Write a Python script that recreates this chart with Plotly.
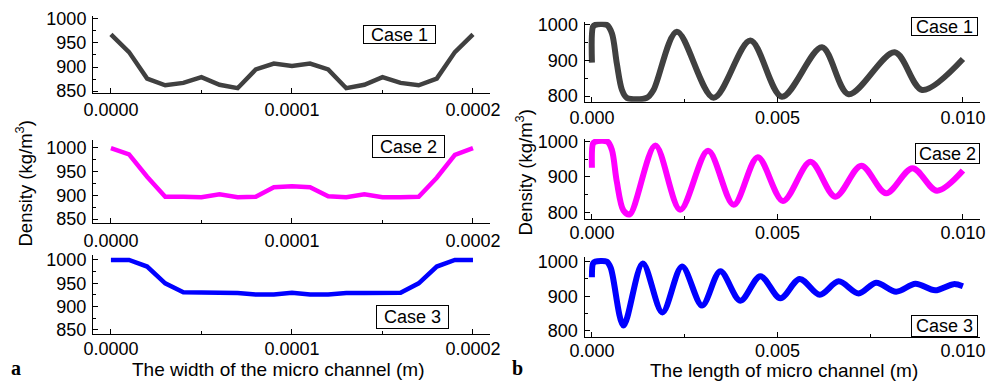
import plotly.graph_objects as go

W, H = 999, 385

# ---------------- data ----------------
# (a) width of the micro channel
width_x = [0.0, 0.00001, 0.00002, 0.00003, 0.00004, 0.00005, 0.00006, 0.00007,
           0.00008, 0.00009, 0.0001, 0.00011, 0.00012, 0.00013, 0.00014, 0.00015,
           0.00016, 0.00017, 0.00018, 0.00019, 0.0002]
case1_width = [968, 931, 876, 862, 867, 879, 863, 856, 895, 907, 902, 907, 895,
               856, 863, 879, 867, 862, 876, 931, 968]
case2_width = [999, 986, 939, 897, 897, 896, 902, 896, 897, 917, 919, 917, 898,
               896, 902, 896, 896, 897, 937, 985, 999]
case3_width = [1000, 1000, 986, 950, 931, 931, 929, 929, 926, 926, 930, 926, 926,
               929, 929, 930, 930, 950, 986, 1000, 1000]

# (b) length of micro channel
length_x1 = [0.0, 0.00003, 0.00009, 0.0004, 0.00054, 0.00067, 0.00081, 0.00094,
             0.00148, 0.00166, 0.00229, 0.00328, 0.00427, 0.00512, 0.0062,
             0.00692, 0.00816, 0.0089, 0.01]
case1_length = [894, 995, 1000, 1000, 976, 892, 817, 795, 795, 817, 981, 795, 956,
                798, 937, 805, 923, 817, 904]

length_x2 = [0.0, 0.00003, 0.00009, 0.00042, 0.00054, 0.00067, 0.00085, 0.00102,
             0.00171, 0.00238, 0.00313, 0.00382, 0.00447, 0.00515, 0.00589,
             0.00656, 0.00726, 0.00793, 0.00864, 0.0093, 0.01]
case2_length = [926, 995, 1000, 1000, 976, 887, 805, 794, 989, 807, 974, 821, 956,
                832, 943, 844, 932, 854, 925, 861, 918]

length_x3 = [0.0, 0.00003, 0.00009, 0.0004, 0.00051, 0.00085, 0.00137, 0.0019,
             0.00243, 0.00297, 0.00346, 0.004, 0.00454, 0.00508, 0.0056, 0.00614,
             0.00665, 0.00719, 0.00766, 0.0082, 0.00872, 0.00925, 0.00975, 0.01]
case3_length = [955, 995, 1000, 1000, 981, 815, 995, 853, 986, 873, 972, 887, 958,
                894, 950, 904, 943, 908, 939, 913, 936, 917, 935, 929]

case_labels = ["Case 1", "Case 2", "Case 3"]
width_ticks = [0.0, 0.0001, 0.0002]
length_ticks = [0.0, 0.005, 0.01]
width_yticks = [850, 900, 950, 1000]
length_yticks = [800, 900, 1000]

GRAY = "#404040"
MAGENTA = "#ff00ff"
BLUE = "#0000ff"
FONT = "Liberation Sans, Arial, sans-serif"
TICK_SIZE = 18
TITLE_SIZE = 19

# ---------------- layout helpers ----------------
def fx(p):
    return p / W


def fy(p):
    return 1 - p / H


panels = [
    # left column
    dict(x=width_x, y=case1_width, color=GRAY, lw=4.5, shape="linear",
         xdom=(93, 490), ydom=(16, 93), xr=(-0.0000099, 0.0002094), yr=(846, 1006),
         xt=width_ticks, xfmt=".4f", xminor=0.00005, yt=width_yticks, yminor=25,
         xso=0, box=(399.5, 34.5, 73, 19), label=case_labels[0]),
    dict(x=width_x, y=case2_width, color=MAGENTA, lw=4.5, shape="linear",
         xdom=(93, 490), ydom=(140, 223), xr=(-0.0000099, 0.0002094), yr=(842, 1016),
         xt=width_ticks, xfmt=".4f", xminor=0.00005, yt=width_yticks, yminor=25,
         xso=1, box=(408.5, 146.5, 73, 23), label=case_labels[1]),
    dict(x=width_x, y=case3_width, color=BLUE, lw=4.5, shape="linear",
         xdom=(93, 490), ydom=(255, 334), xr=(-0.0000099, 0.0002094), yr=(841.4, 1010.7),
         xt=width_ticks, xfmt=".4f", xminor=0.00005, yt=width_yticks, yminor=25,
         xso=-2, box=(412.7, 317, 73, 24), label=case_labels[2]),
    # right column
    dict(x=length_x1, y=case1_length, color=GRAY, lw=6, shape="spline",
         xdom=(584.5, 980), ydom=(21.7, 101.7), xr=(-0.0002, 0.01046), yr=(784, 1009),
         xt=length_ticks, xfmt=".3f", xminor=0.0025, yt=length_yticks, yminor=50,
         xso=0, box=(944, 26.3, 67, 19), label=case_labels[0]),
    dict(x=length_x2, y=case2_length, color=MAGENTA, lw=6, shape="spline",
         xdom=(584.5, 980), ydom=(139, 219.3), xr=(-0.0002, 0.01046), yr=(780, 1007.6),
         xt=length_ticks, xfmt=".3f", xminor=0.0025, yt=length_yticks, yminor=50,
         xso=-3, box=(947.5, 153.8, 65, 21), label=case_labels[1]),
    dict(x=length_x3, y=case3_length, color=BLUE, lw=6, shape="spline",
         xdom=(584.5, 980), ydom=(257.3, 337.3), xr=(-0.0002, 0.01046), yr=(781, 1012.7),
         xt=length_ticks, xfmt=".3f", xminor=0.0025, yt=length_yticks, yminor=50,
         xso=-3, box=(944.5, 326, 67, 22), label=case_labels[2]),
]

fig = go.Figure()
layout = dict(
    width=W, height=H,
    margin=dict(l=0, r=0, t=0, b=0, pad=0, autoexpand=False),
    paper_bgcolor="white", plot_bgcolor="white",
    showlegend=False,
    font=dict(family=FONT, size=18, color="black"),
)
annotations = []

for i, p in enumerate(panels, start=1):
    xa = "x" if i == 1 else f"x{i}"
    ya = "y" if i == 1 else f"y{i}"
    fig.add_trace(go.Scatter(
        x=p["x"], y=p["y"], mode="lines", xaxis=xa, yaxis=ya,
        line=dict(color=p["color"], width=p["lw"], shape=p["shape"],
                  **({"smoothing": 0.9} if p["shape"] == "spline" else {})),
        hoverinfo="skip",
    ))
    xkey = "xaxis" if i == 1 else f"xaxis{i}"
    ykey = "yaxis" if i == 1 else f"yaxis{i}"
    layout[xkey] = dict(
        domain=[fx(p["xdom"][0]), fx(p["xdom"][1])],
        range=list(p["xr"]), anchor=ya, automargin=False,
        showline=True, linecolor="black", linewidth=1,
        showgrid=False, zeroline=False,
        ticks="inside", ticklen=5, tickwidth=1, tickcolor="black",
        tickmode="array", tickvals=p["xt"], tickformat=p["xfmt"],
        ticklabelstandoff=p["xso"],
        tickfont=dict(family=FONT, size=TICK_SIZE, color="black"),
        minor=dict(ticks="inside", ticklen=3, tickwidth=1, tickcolor="black",
                   tick0=0, dtick=p["xminor"], showgrid=False),
    )
    layout[ykey] = dict(
        domain=[fy(p["ydom"][1]), fy(p["ydom"][0])],
        range=list(p["yr"]), anchor=xa, automargin=False,
        showline=True, linecolor="black", linewidth=1,
        showgrid=False, zeroline=False,
        ticks="inside", ticklen=5, tickwidth=1, tickcolor="black",
        tickmode="array", tickvals=p["yt"],
        ticklabelstandoff=2,
        tickfont=dict(family=FONT, size=TICK_SIZE, color="black"),
        minor=dict(ticks="inside", ticklen=3, tickwidth=1, tickcolor="black",
                   tick0=0, dtick=p["yminor"], showgrid=False),
    )
    bx, by, bw, bh = p["box"]
    annotations.append(dict(
        text=p["label"], xref="paper", yref="paper", x=fx(bx), y=fy(by),
        xanchor="center", yanchor="middle", showarrow=False,
        width=bw - 2, height=bh - 2, borderpad=0, borderwidth=1,
        bordercolor="black", bgcolor="white",
        font=dict(family=FONT, size=18, color="black"),
    ))

# axis titles and panel letters
annotations += [
    dict(text="The width of the micro channel (m)", xref="paper", yref="paper",
         x=fx(278), y=fy(369), xanchor="center", yanchor="middle", showarrow=False,
         font=dict(family=FONT, size=TITLE_SIZE, color="black")),
    dict(text="The length of micro channel (m)", xref="paper", yref="paper",
         x=fx(784), y=fy(370), xanchor="center", yanchor="middle", showarrow=False,
         font=dict(family=FONT, size=TITLE_SIZE, color="black")),
    dict(text="Density (kg/m<sup>3</sup>)", xref="paper", yref="paper",
         x=fx(24), y=fy(183.5), xanchor="center", yanchor="middle", showarrow=False,
         textangle=-90, font=dict(family=FONT, size=18.5, color="black")),
    dict(text="Density (kg/m<sup>3</sup>)", xref="paper", yref="paper",
         x=fx(524), y=fy(172.5), xanchor="center", yanchor="middle", showarrow=False,
         textangle=-90, font=dict(family=FONT, size=18.5, color="black")),
    dict(text="<b>a</b>", xref="paper", yref="paper",
         x=fx(16), y=fy(368), xanchor="center", yanchor="middle", showarrow=False,
         font=dict(family="Liberation Serif, Times New Roman, serif", size=20, color="black")),
    dict(text="<b>b</b>", xref="paper", yref="paper",
         x=fx(517), y=fy(368), xanchor="center", yanchor="middle", showarrow=False,
         font=dict(family="Liberation Serif, Times New Roman, serif", size=20, color="black")),
]
layout["annotations"] = annotations
fig.update_layout(**layout)

fig.write_html("out.html")
